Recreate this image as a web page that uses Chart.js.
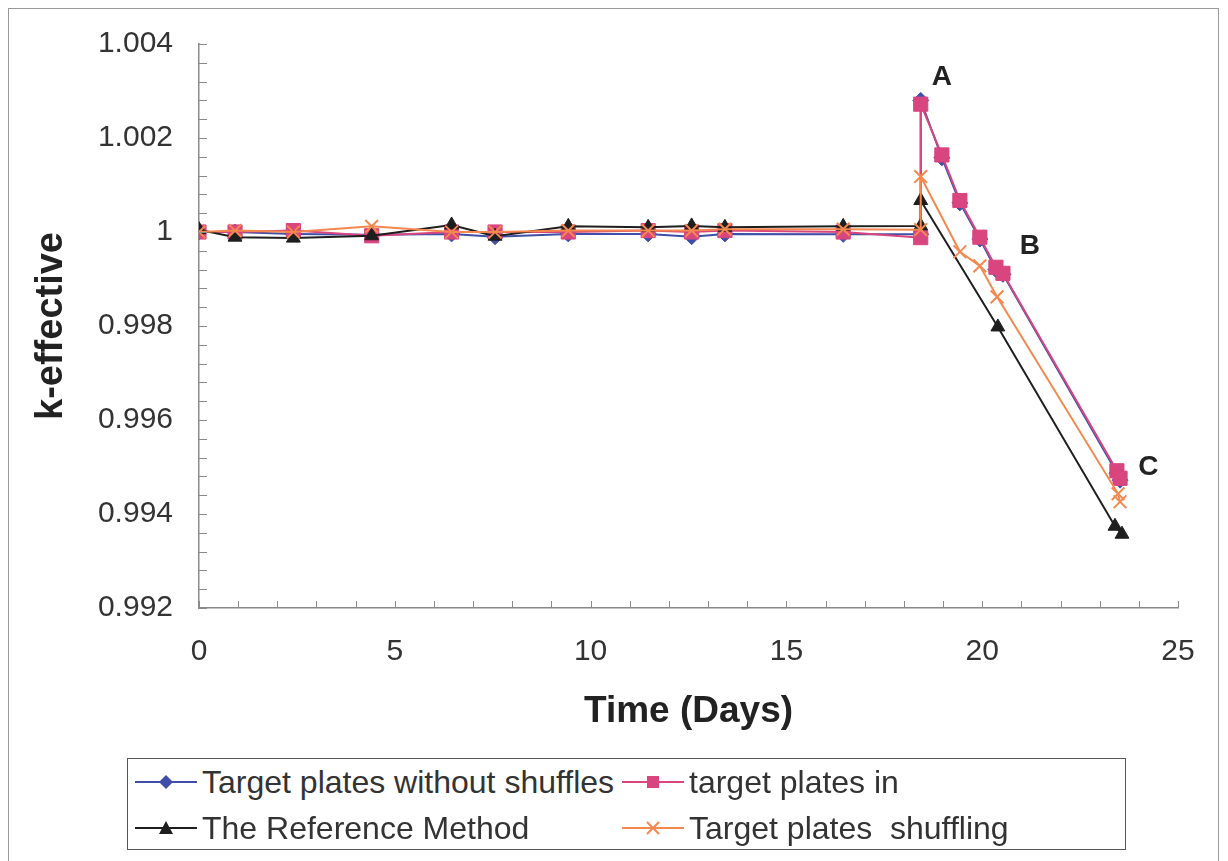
<!DOCTYPE html>
<html>
<head>
<meta charset="utf-8">
<script src="https://cdn.jsdelivr.net/npm/chart.js@4/dist/chart.umd.min.js"></script>
<style>
  body { margin: 0; background: #fff; }
  #wrap { position: relative; width: 1228px; height: 861px; background: #fff; overflow: hidden; }
  #frame { position: absolute; left: 8px; top: 8px; width: 1211px; height: 900px; border: 1.5px solid #9a9a9a; box-sizing: border-box; pointer-events: none; }
  #legend {
    position: absolute; left: 127px; top: 758px; width: 999px; height: 92px;
    border: 1.5px solid #555; box-sizing: border-box; background: #fff;
    display: grid; grid-template-columns: 487px 1fr; grid-auto-rows: 46px;
    padding: 0 0 0 7px;
    font-family: "Liberation Sans", Arial, sans-serif; font-size: 32px; color: #333;
  }
  #legend .item { display: flex; align-items: center; white-space: pre; }
  #legend svg { margin-right: 5px; flex: none; }
</style>
</head>
<body>
<div id="wrap">
  <canvas id="chart"></canvas>
  <div id="frame"></div>
  <div id="legend"></div>
</div>
<script>
// k-effective vs time, four calculation methods

const seriesNames = [
  'Target plates without shuffles',
  'target plates in',
  'The Reference Method',
  'Target plates  shuffling',
];

// time in days for each series
const daysWithout = [0, 0.92, 2.41, 4.41, 6.45, 7.56, 9.43, 11.47, 12.58, 13.43, 16.45, 18.43,
  18.43, 18.97, 19.43, 19.94, 20.35, 20.53, 23.44, 23.52];
const daysIn = [0, 0.92, 2.41, 4.41, 6.45, 7.56, 9.43, 11.47, 12.58, 13.43, 16.45, 18.43,
  18.43, 18.97, 19.43, 19.94, 20.35, 20.53, 23.44, 23.52];
const daysReference = [0, 0.92, 2.41, 4.41, 6.45, 7.56, 9.43, 11.47, 12.58, 13.43, 16.45, 18.43,
  18.43, 20.4, 23.39, 23.57];
const daysShuffling = [0, 0.92, 2.41, 4.41, 6.45, 7.56, 9.43, 11.47, 12.58, 13.43, 16.45, 18.43,
  18.43, 19.43, 19.94, 20.38, 23.47, 23.52];

// k-effective values
const kWithout = [1.0, 1.0, 0.99996, 0.99994, 0.99996, 0.9999, 0.99996, 0.99996, 0.9999, 0.99996, 0.99995, 0.99995,
  1.0028, 1.00158, 1.00062, 0.99985, 0.9992, 0.9991, 0.99487, 0.99472];
const kIn = [1.0, 1.0, 1.00003, 0.99992, 1.0, 1.0, 1.0, 1.00003, 1.0, 1.00003, 1.0, 0.99988,
  1.00272, 1.00164, 1.00067, 0.99989, 0.99925, 0.99912, 0.99492, 0.99476];
const kReference = [1.00005, 0.99989, 0.99987, 0.99992, 1.00015, 0.99991, 1.00012, 1.0001, 1.00013, 1.0001, 1.00012, 1.00013,
  1.00067, 0.99798, 0.99374, 0.99357];
const kShuffling = [1.0, 1.00003, 1.0, 1.00012, 1.0, 1.0, 1.00003, 1.00003, 1.00003, 1.00006, 1.00006, 1.00005,
  1.00118, 0.99958, 0.99928, 0.99862, 0.99443, 0.99426];

const yTicks = [0.992, 0.994, 0.996, 0.998, 1, 1.002, 1.004];

// point labels written next to the curves
const noteText = ['A', 'B', 'C'];
const noteDays = [18.97, 21.22, 24.24];
const noteK = [1.0033, 0.99969, 0.99499];

const COLORS = ['#3f4fa8', '#d9457f', '#1e1e1e', '#f4884e'];
const SHAPES = ['rectRot', 'rect', 'triangle', 'crossRot'];
const RADII = [8, 10, 8, 9];

const pairs = (xs, ys) => xs.map((x, i) => ({ x, y: ys[i] }));
const allDays = [daysWithout, daysIn, daysReference, daysShuffling];
const allK = [kWithout, kIn, kReference, kShuffling];

const datasets = seriesNames.map((name, i) => ({
  label: name,
  data: pairs(allDays[i], allK[i]),
  showLine: true,
  borderColor: COLORS[i],
  backgroundColor: COLORS[i],
  borderWidth: 2,
  pointStyle: SHAPES[i],
  pointRadius: RADII[i],
  pointBorderWidth: SHAPES[i] === 'crossRot' ? 2 : 1,
  pointBorderColor: COLORS[i],
  pointBackgroundColor: COLORS[i],
  order: 4 - i,
  tension: 0,
}));

const innerTicks = {
  id: 'innerTicks',
  afterDraw(chart) {
    const { ctx, chartArea: { left, bottom }, scales: { x, y } } = chart;
    ctx.save();
    ctx.strokeStyle = '#8a8a8a';
    ctx.lineWidth = 1;
    ctx.beginPath();
    for (let d = 0; d <= 25; d++) {
      const px = Math.round(x.getPixelForValue(d)) + 0.5;
      ctx.moveTo(px, bottom);
      ctx.lineTo(px, bottom - 7);
    }
    for (let i = 0; i <= 30; i++) {
      const py = Math.round(y.getPixelForValue(0.992 + i * 0.0004)) + 0.5;
      ctx.moveTo(left, py);
      ctx.lineTo(left + 8, py);
    }
    ctx.stroke();
    ctx.restore();
  },
};

const notes = {
  id: 'notes',
  afterDatasetsDraw(chart) {
    const { ctx, scales: { x, y } } = chart;
    ctx.save();
    ctx.font = 'bold 28px "Liberation Sans", Arial, sans-serif';
    ctx.fillStyle = '#222';
    ctx.textAlign = 'center';
    ctx.textBaseline = 'middle';
    noteText.forEach((t, i) => {
      ctx.fillText(t, x.getPixelForValue(noteDays[i]), y.getPixelForValue(noteK[i]));
    });
    ctx.restore();
  },
};

const FONT = '"Liberation Sans", Arial, sans-serif';

new Chart(document.getElementById('chart'), {
  type: 'scatter',
  data: { datasets },
  options: {
    responsive: true,
    maintainAspectRatio: false,
    animation: false,
    layout: { padding: { left: 0, top: 42, right: 50, bottom: 0 } },
    plugins: {
      legend: { display: false },
      tooltip: { enabled: false },
    },
    scales: {
      x: {
        type: 'linear',
        min: 0,
        max: 25,
        afterFit: (s) => { s.height = 253; },
        ticks: { stepSize: 5, color: '#333', padding: 26, font: { family: FONT, size: 30 } },
        grid: { drawOnChartArea: false, drawTicks: false },
        border: { color: '#8a8a8a', width: 1.5 },
        title: {
          display: true,
          text: 'Time (Days)',
          color: '#222',
          font: { family: FONT, size: 37, weight: 'bold' },
          padding: { top: 0, bottom: 127 },
        },
      },
      y: {
        type: 'linear',
        min: 0.992,
        max: 1.004,
        afterFit: (s) => { s.width = 199; },
        afterBuildTicks: (s) => { s.ticks = yTicks.map(v => ({ value: v })); },
        ticks: {
          color: '#333',
          padding: 26,
          font: { family: FONT, size: 30 },
          callback: (v) => String(Number(Number(v).toFixed(3))),
        },
        grid: { drawOnChartArea: false, drawTicks: false },
        border: { color: '#8a8a8a', width: 1.5 },
        title: {
          display: true,
          text: 'k-effective',
          color: '#222',
          font: { family: FONT, size: 38, weight: 'bold' },
          padding: { top: 29, bottom: 0 },
        },
      },
    },
  },
  plugins: [innerTicks, notes],
});

// legend laid out as in the original, two columns
function markerSvg(i) {
  const c = COLORS[i];
  let shape = '';
  if (SHAPES[i] === 'rectRot') shape = `<polygon points="31,4 38,11 31,18 24,11" fill="${c}"/>`;
  if (SHAPES[i] === 'rect') shape = `<rect x="25" y="5" width="12" height="12" fill="${c}"/>`;
  if (SHAPES[i] === 'triangle') shape = `<polygon points="31,4 38,17 24,17" fill="${c}"/>`;
  if (SHAPES[i] === 'crossRot') shape = `<path d="M25 5 L37 17 M37 5 L25 17" stroke="${c}" stroke-width="2"/>`;
  return `<svg width="62" height="22"><line x1="0" y1="11" x2="62" y2="11" stroke="${c}" stroke-width="2"/>${shape}</svg>`;
}

const legendEl = document.getElementById('legend');
seriesNames.forEach((name, i) => {
  const item = document.createElement('div');
  item.className = 'item';
  item.innerHTML = markerSvg(i) + '<span></span>';
  item.querySelector('span').textContent = name;
  legendEl.appendChild(item);
});
</script>
</body>
</html>
